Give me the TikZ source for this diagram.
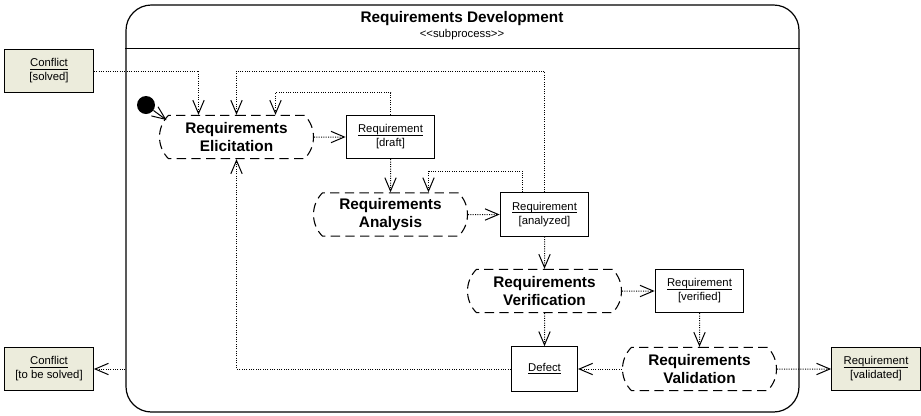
\documentclass[tikz,border=0pt]{standalone}
\usepackage{fontspec}
\setmainfont{Liberation Sans}
\usetikzlibrary{arrows.meta,shapes.misc,calc}

\definecolor{pinfill}{RGB}{236,236,220}

% nom d'objet souligne pres de la ligne de base
\newcommand{\objname}[1]{\underline{\smash{#1}}\vphantom{#1}}

\tikzset{
  action/.style={draw, line width=0.8pt, dash pattern=on 7pt off 4pt,
    rounded rectangle, rounded rectangle arc length=90,
    minimum width=115.5pt, minimum height=32.5pt, inner sep=0pt, align=center,
    font=\fontsize{11.5}{13}\selectfont\bfseries},
  object/.style={draw, line width=0.8pt, minimum width=66.5pt,
    minimum height=32.5pt, inner sep=0pt, align=center,
    font=\fontsize{8.5}{10.5}\selectfont},
  pin/.style={object, fill=pinfill},
  tip/.style={-{Straight Barb[length=10pt,width=8.5pt,line width=0.75pt]}},
  flow/.style={tip, line width=0.75pt, densely dotted},
}

\begin{document}
\begin{tikzpicture}[x=0.75pt, y=-0.75pt]
  \useasboundingbox (0,0) rectangle (921,415);

  % Cadre du sous-processus avec son en-tete
  \node[draw, line width=0.9pt, rounded corners=19pt, minimum width=504.75pt,
    minimum height=305.25pt, inner sep=0pt] (sub) at (462.5,208.5) {};
  \draw[line width=0.9pt] ($(sub.north west)+(0,44)$) -- ($(sub.north east)+(0,44)$);
  \node[font=\fontsize{11.5}{13}\selectfont\bfseries] (title) at (462,19) {Requirements Development};
  \node[font=\fontsize{8.5}{10}\selectfont] (stereo) at (462,35) {<{}<subprocess>{}>};

  % Broches d'entree et de sortie
  \node[pin] (cin) at (49,71) {\objname{Conflict}\\{[solved]}};
  \node[pin] (cout) at (49,369) {\objname{Conflict}\\{[to be solved]}};
  \node[pin] (vout) at (876,369) {\objname{Requirement}\\{[validated]}};

  % Noeud initial
  \node[fill, circle, minimum size=13.5pt, inner sep=0pt] (init) at (146,105) {};

  % Activites
  \node[action] (elic) at (236.5,137) {Requirements\\Elicitation};
  \node[action] (anl) at (390.5,214.5) {Requirements\\Analysis};
  \node[action] (verif) at (544.5,291) {Requirements\\Verification};
  \node[action] (valid) at (699.5,369) {Requirements\\Validation};

  % Objets
  \node[object] (draft) at (390.5,137) {\objname{Requirement}\\{[draft]}};
  \node[object] (ana) at (544.5,214.5) {\objname{Requirement}\\{[analyzed]}};
  \node[object] (ver) at (699.5,291) {\objname{Requirement}\\{[verified]}};
  \node[object, minimum width=49.5pt, minimum height=33.5pt] (defect) at (544.5,369) {\objname{Defect}};

  % Demarrage
  \draw[tip, line width=0.75pt] (init) -- ($(elic.center)+(-70,-17)$);

  % Retours vers l'elicitation
  \draw[flow] (cin.east) -| ($(elic.north)+(-38,0)$);
  \draw[flow] (ana.north) |- (elic.north |- cin.east) -- (elic.north);
  \draw[flow] (draft.north) -- ++(0,-22) -| ($(elic.north)+(39,0)$);
  \draw[flow] (defect.west) -| (elic.south);

  % Chaine principale
  \draw[flow] (elic) -- (draft);
  \draw[flow] (draft) -- (anl);
  \draw[flow] ($(ana.north)+(-22,0)$) -- ++(0,-21) -| ($(anl.north)+(38,0)$);
  \draw[flow] (anl) -- (ana);
  \draw[flow] (ana) -- (verif);
  \draw[flow] (verif) -- (ver);
  \draw[flow] (verif) -- (defect);
  \draw[flow] (ver) -- (valid);
  \draw[flow] (valid) -- (defect);

  % Sorties
  \draw[flow] (valid) -- (vout);
  \draw[flow] (sub.west |- cout) -- (cout);
\end{tikzpicture}
\end{document}
